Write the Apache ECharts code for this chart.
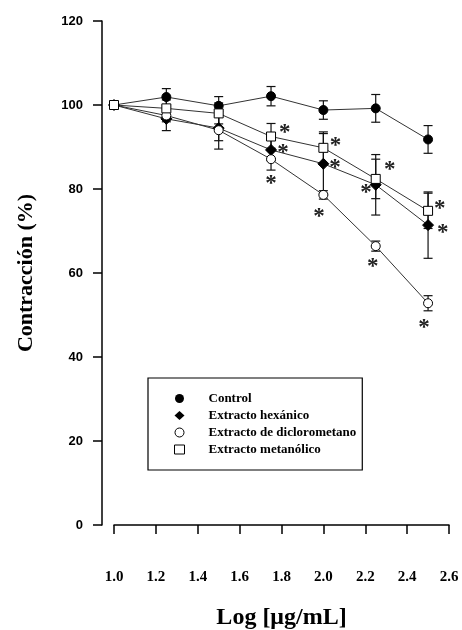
<!DOCTYPE html>
<html>
<head>
<meta charset="utf-8">
<script src="https://cdn.jsdelivr.net/npm/echarts@6/dist/echarts.min.js"></script>
<style>
html,body{margin:0;padding:0;background:#fff;}
#chart{width:462px;height:630px;}
</style>
</head>
<body>
<div id="chart"></div>
<script>
// ---- data ----
var logDose = [1.0, 1.25, 1.5, 1.75, 2.0, 2.25, 2.5];
var seriesNames = ['Control', 'Extracto hexánico', 'Extracto de diclorometano', 'Extracto metanólico'];
var control = [100, 101.9, 99.8, 102.1, 98.8, 99.2, 91.8];
var controlErr = [0, 2.0, 2.2, 2.3, 2.2, 3.3, 3.3];
var hexanico = [100, 96.7, 94.5, 89.3, 86.0, 81.0, 71.4];
var hexanicoErr = [0, 2.8, 3.0, 2.5, 7.2, 7.2, 7.9];
var dicloro = [100, 97.5, 94.0, 87.1, 78.6, 66.4, 52.8];
var dicloroErr = [0, 1.5, 4.5, 2.6, 1.0, 1.2, 1.8];
var metanol = [100, 99.2, 98.0, 92.5, 89.8, 82.4, 74.8];
var metanolErr = [0, 2.0, 2.5, 3.1, 3.8, 4.7, 4.2];
// significance asterisks (x, y)
var starX = [1.816, 1.807, 1.75, 2.058, 2.055, 1.979, 2.317, 2.203, 2.236, 2.556, 2.570, 2.48];
var starY = [94.6, 89.8, 82.3, 91.3, 86.2, 74.4, 85.7, 80.2, 62.7, 76.4, 70.7, 48.1];
var xTicks = [1.0, 1.2, 1.4, 1.6, 1.8, 2.0, 2.2, 2.4, 2.6];
var yTicks = [0, 20, 40, 60, 80, 100, 120];

function pairs(ys){ return logDose.map(function(x,i){ return [x, ys[i]]; }); }
function errTriples(ys, es){ return logDose.map(function(x,i){ return [x, ys[i], es[i]]; }); }

var chart = echarts.init(document.getElementById('chart'), null, {renderer:'canvas'});

function errSeries(ys, es){
  return {
    type: 'custom',
    data: errTriples(ys, es),
    z: 1,
    silent: true,
    renderItem: function(params, api){
      var x = api.value(0), y = api.value(1), e = api.value(2);
      if (!e) return null;
      var top = api.coord([x, y + e]);
      var bot = api.coord([x, y - e]);
      var hw = 4.5;
      var st = {stroke:'#111', lineWidth:1.2};
      return {type:'group', children:[
        {type:'line', shape:{x1:top[0], y1:top[1], x2:bot[0], y2:bot[1]}, style:st},
        {type:'line', shape:{x1:top[0]-hw, y1:top[1], x2:top[0]+hw, y2:top[1]}, style:st},
        {type:'line', shape:{x1:bot[0]-hw, y1:bot[1], x2:bot[0]+hw, y2:bot[1]}, style:st}
      ]};
    }
  };
}

function lineSeries(name, ys, symbol, size, fill){
  return {
    name: name,
    type: 'line',
    data: pairs(ys),
    z: 3,
    symbol: symbol,
    symbolSize: size,
    showAllSymbol: true,
    lineStyle: {color:'#333', width:1},
    itemStyle: {color: fill, borderColor:'#000', borderWidth: 1},
    emphasis: {disabled: true},
    animation: false
  };
}

var titleFont = 'Liberation Serif';

var option = {
  animation: false,
  backgroundColor: '#fff',
  grid: {left: 114, right: 13, top: 21, bottom: 105, outerBoundsMode: 'none', containLabel: false},
  xAxis: {
    type: 'value', min: 1.0, max: 2.6, interval: 0.2,
    offset: 19,
    axisLine: {lineStyle:{color:'#000', width:1.5}},
    axisTick: {show:true, length:9, lineStyle:{color:'#000', width:1.5}},
    splitLine: {show:false},
    axisLabel: {
      margin: 26, color:'#000', fontFamily: titleFont, fontWeight:'bold', fontSize:15,
      formatter: function(v){ return v.toFixed(1); },
      customValues: xTicks
    },
    name: 'Log [μg/mL]', nameLocation: 'middle', nameGap: 62,
    nameTextStyle: {fontFamily: titleFont, fontWeight:'bold', fontSize:24, color:'#000'}
  },
  yAxis: {
    type: 'value', min: 0, max: 120, interval: 20,
    offset: 12,
    axisLine: {show:true, lineStyle:{color:'#000', width:1.5}},
    axisTick: {show:true, length:9, lineStyle:{color:'#000', width:1.5}},
    splitLine: {show:false},
    axisLabel: {margin: 19, color:'#000', fontFamily:'Liberation Sans', fontWeight:'bold', fontSize:13, customValues: yTicks},
    name: 'Contracción (%)', nameLocation: 'middle', nameGap: 65,
    nameTextStyle: {fontFamily: titleFont, fontWeight:'bold', fontSize:22, color:'#000'}
  },
  legend: {
    orient: 'vertical', left: 148, top: 378,
    itemWidth: 10, itemHeight: 9, itemGap: 4,
    padding: [14, 6, 14, 26],
    borderColor: '#000', borderWidth: 1.2,
    selectedMode: false,
    textStyle: {fontFamily: titleFont, fontWeight:'bold', fontSize:13, color:'#000', padding:[0,0,0,19]},
    data: [
      {name: seriesNames[0], icon:'circle', itemStyle:{color:'#000', borderWidth:0}},
      {name: seriesNames[1], icon:'diamond', itemStyle:{color:'#000', borderWidth:0}},
      {name: seriesNames[2], icon:'circle', itemStyle:{color:'#fff', borderColor:'#000', borderWidth:1}},
      {name: seriesNames[3], icon:'rect', itemStyle:{color:'#fff', borderColor:'#000', borderWidth:1}}
    ]
  },
  series: [
    errSeries(control, controlErr),
    errSeries(hexanico, hexanicoErr),
    errSeries(dicloro, dicloroErr),
    errSeries(metanol, metanolErr),
    lineSeries(seriesNames[0], control, 'circle', 9, '#000'),
    lineSeries(seriesNames[1], hexanico, 'diamond', 11, '#000'),
    lineSeries(seriesNames[2], dicloro, 'circle', 9, '#fff'),
    lineSeries(seriesNames[3], metanol, 'rect', 9, '#fff'),
    {
      type: 'custom', z: 4, silent: true,
      data: starX.map(function(x,i){ return [x, starY[i]]; }),
      renderItem: function(params, api){
        var p = api.coord([api.value(0), api.value(1)]);
        return {type:'text', x: p[0], y: p[1] + 5, style:{
          text:'*', fill:'#222', font:'bold 23px "Liberation Serif"', align:'center', verticalAlign:'middle'
        }};
      }
    }
  ]
};
chart.setOption(option);
</script>
</body>
</html>
